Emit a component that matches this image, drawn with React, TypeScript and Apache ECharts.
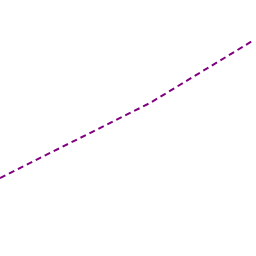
import React, { useEffect, useRef } from "react";
import * as echarts from "echarts";

const xValues = [0, 150, 254];
const yValues = [78, 153, 216];

export default function App() {
  const ref = useRef<HTMLDivElement>(null);
  useEffect(() => {
    if (!ref.current) return;
    const chart = echarts.init(ref.current, null, { renderer: "svg" });
    chart.setOption({
      animation: false,
      backgroundColor: "#ffffff",
      grid: { left: 0, right: 0, top: 0, bottom: 0 },
      xAxis: { type: "value", min: 0, max: 256, show: false },
      yAxis: { type: "value", min: 0, max: 256, show: false },
      series: [
        {
          type: "line",
          data: xValues.map((x, i) => [x, yValues[i]]),
          showSymbol: false,
          lineStyle: { color: "#800080", width: 2, type: [6, 4] },
        },
      ],
    });
    return () => chart.dispose();
  }, []);
  return (
    <div
      ref={ref}
      style={{ position: "fixed", left: 0, top: 0, width: 256, height: 256 }}
    />
  );
}
